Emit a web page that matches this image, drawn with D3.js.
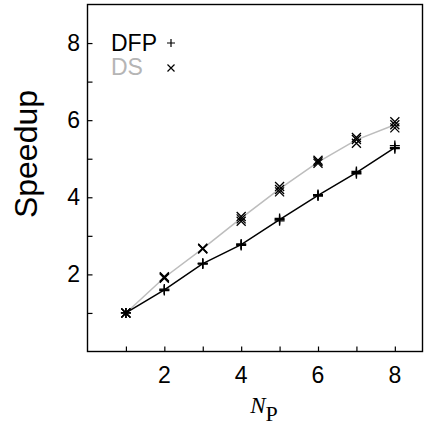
<!DOCTYPE html>
<html>
<head>
<meta charset="utf-8">
<script src="https://cdn.jsdelivr.net/npm/d3@7"></script>
<style>
  html, body { margin: 0; padding: 0; background: #fff; }
  svg { display: block; }
  text { font-family: "Liberation Sans", Arial, sans-serif; }
</style>
</head>
<body>
<svg id="chart" width="427" height="428"></svg>
<script>
// ---- data ----
const np = [1, 2, 3, 4, 5, 6, 7, 8];
const dfpLine = [1.00, 1.60, 2.28, 2.77, 3.42, 4.05, 4.64, 5.29];
const dsLine  = [1.00, 1.92, 2.67, 3.46, 4.22, 4.91, 5.49, 5.88];
const dfpRuns = [
  [1.00, 1.00, 1.00], [1.62, 1.60, 1.58], [2.29, 2.28, 2.27], [2.79, 2.77, 2.75],
  [3.45, 3.42, 3.39], [4.07, 4.05, 4.03], [4.67, 4.64, 4.61], [5.34, 5.29, 5.26]
];
const dsRuns = [
  [1.00, 1.00, 1.00], [1.94, 1.92, 1.90], [2.68, 2.66, 2.67], [3.50, 3.44, 3.38],
  [4.28, 4.20, 4.14], [4.96, 4.92, 4.88], [5.55, 5.50, 5.40], [5.96, 5.88, 5.80]
];
const xTicks = [1, 2, 3, 4, 5, 6, 7, 8];
const xTickLabels = [2, 4, 6, 8];
const yTicks = [1, 2, 3, 4, 5, 6, 7, 8];
const yTickLabels = [2, 4, 6, 8];
const seriesNames = ["DFP", "DS"];

// ---- layout ----
const svg = d3.select("#chart");
const L = 87.5, R = 422.5, T = 4.5, B = 351.5;
const x = d3.scaleLinear().domain([0, 8.72]).range([L, R]);
const y = d3.scaleLinear().domain([0, 9]).range([B, T]);

// frame
svg.append("rect").attr("x", L).attr("y", T).attr("width", R - L).attr("height", B - T)
  .attr("fill", "none").attr("stroke", "#000").attr("stroke-width", 1.4);

// axes (inward ticks)
const xAxis = d3.axisTop(x).tickValues(xTicks).tickSize(5).tickFormat("");
const gx = svg.append("g").attr("transform", `translate(0,${B})`).call(xAxis);
gx.select(".domain").remove();
gx.selectAll("line").attr("stroke", "#000").attr("stroke-width", 1.2);

const yAxis = d3.axisRight(y).tickValues(yTicks).tickSize(5).tickFormat("");
const gy = svg.append("g").attr("transform", `translate(${L},0)`).call(yAxis);
gy.select(".domain").remove();
gy.selectAll("line").attr("stroke", "#000").attr("stroke-width", 1.2);

// tick labels
svg.append("g").selectAll("text").data(xTickLabels).join("text")
  .attr("x", d => x(d)).attr("y", 383)
  .attr("text-anchor", "middle").attr("font-size", 23).attr("fill", "#000")
  .text(d => d);
svg.append("g").selectAll("text").data(yTickLabels).join("text")
  .attr("x", 80).attr("y", d => y(d)).attr("dy", "0.35em")
  .attr("text-anchor", "end").attr("font-size", 23).attr("fill", "#000")
  .text(d => d);

// axis titles
svg.append("text").attr("transform", "translate(36.5,154) rotate(-90)")
  .attr("text-anchor", "middle").attr("font-size", 32).attr("fill", "#000")
  .text("Speedup");
const xt = svg.append("text").attr("x", 264).attr("y", 413).attr("text-anchor", "middle")
  .attr("fill", "#000").style("font-family", "'Liberation Serif', 'DejaVu Serif', serif");
xt.append("tspan").attr("font-style", "italic").attr("font-size", 23).text("N");
xt.append("tspan").attr("font-size", 22).attr("dy", 8).text("P");

// lines
const line = d3.line().x((d, i) => x(np[i])).y(d => y(d));
svg.append("path").datum(dsLine).attr("d", line)
  .attr("fill", "none").attr("stroke", "#bdbdbd").attr("stroke-width", 1.5);
svg.append("path").datum(dfpLine).attr("d", line)
  .attr("fill", "none").attr("stroke", "#000").attr("stroke-width", 1.5);

// markers
function plus(g, cx, cy, s, w) {
  g.append("path").attr("d", `M${cx - s},${cy}H${cx + s}M${cx},${cy - s}V${cy + s}`)
    .attr("stroke", "#000").attr("stroke-width", w).attr("fill", "none");
}
function cross(g, cx, cy, s, w) {
  g.append("path").attr("d", `M${cx - s},${cy - s}L${cx + s},${cy + s}M${cx - s},${cy + s}L${cx + s},${cy - s}`)
    .attr("stroke", "#000").attr("stroke-width", w).attr("fill", "none");
}
const gm = svg.append("g");
dsRuns.forEach((runs, i) => runs.forEach(v => cross(gm, x(np[i]), y(v), 4.5, 1.3)));
dfpRuns.forEach((runs, i) => runs.forEach(v => plus(gm, x(np[i]), y(v), 5, 1.3)));

// legend
svg.append("text").attr("x", 111).attr("y", 51).attr("font-size", 23).attr("fill", "#000").text(seriesNames[0]);
svg.append("text").attr("x", 111).attr("y", 75).attr("font-size", 23).attr("fill", "#b5b5b5").text(seriesNames[1]);
plus(svg, 171, 43, 4, 1.2);
cross(svg, 171, 68, 3.5, 1.2);
</script>
</body>
</html>
